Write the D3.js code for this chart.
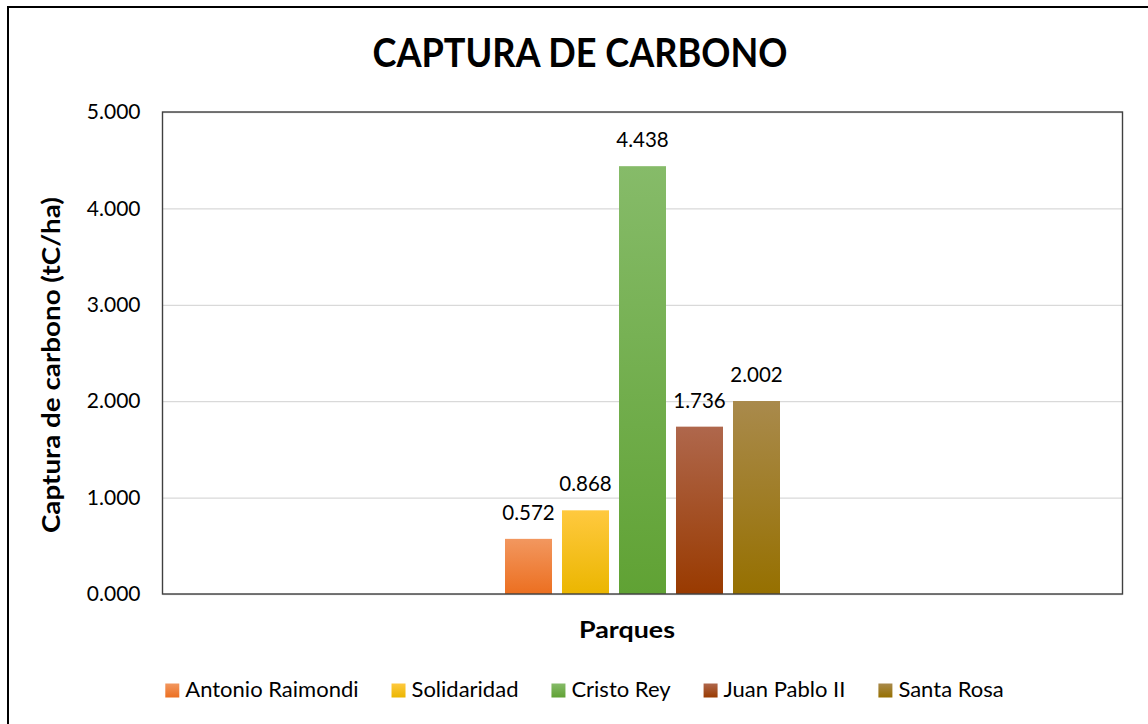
<!DOCTYPE html>
<html><head><meta charset="utf-8">
<script src="https://cdn.jsdelivr.net/npm/d3@7"></script>
<style>body{margin:0;background:#fff;overflow:hidden}</style>
</head><body><svg id="c" width="1148" height="724"></svg>
<script>
// ---- data ----
const categories = ["Parques"];
const series = ["Antonio Raimondi", "Solidaridad", "Cristo Rey", "Juan Pablo II", "Santa Rosa"];
const values = [0.572, 0.868, 4.438, 1.736, 2.002];
const yTicks = [0, 1, 2, 3, 4, 5];
const colorsTop = ["#F2975F", "#FFC93F", "#86BB69", "#AF674C", "#A98A4C"];
const colorsBottom = ["#EC6F20", "#EBB600", "#60A234", "#993A00", "#967000"];
const titleText = "CAPTURA DE CARBONO";
const yTitle = "Captura de carbono (tC/ha)";
const xTitle = "Parques";

// ---- layout ----
const W = 1148, H = 724;
const plot = {left: 162.5, right: 1122.5, top: 112, bottom: 594};
const svg = d3.select("#c");
const FONT = "Lato, 'Open Sans', sans-serif";

const defs = svg.append("defs");
series.forEach((s, i) => {
  const g = defs.append("linearGradient").attr("id", "g" + i)
    .attr("x1", 0).attr("y1", 0).attr("x2", 0).attr("y2", 1);
  g.append("stop").attr("offset", "0%").attr("stop-color", colorsTop[i]);
  g.append("stop").attr("offset", "100%").attr("stop-color", colorsBottom[i]);
});

// outer frame
svg.append("rect").attr("x", 8).attr("y", 7).attr("width", W + 20).attr("height", H + 20)
  .attr("fill", "#fff").attr("stroke", "#000").attr("stroke-width", 2);

const y = d3.scaleLinear().domain([0, 5]).range([plot.bottom, plot.top]);
const x0 = d3.scaleBand().domain(categories).range([plot.left, plot.right])
  .paddingInner(0).paddingOuter(1.2455);
const x1 = d3.scaleBand().domain(series).range([0, x0.bandwidth()])
  .paddingInner(0.1754).paddingOuter(0);

// gridlines
const grid = svg.append("g").attr("transform", `translate(${plot.left},0)`)
  .call(d3.axisLeft(y).tickValues(yTicks).tickSize(-(plot.right - plot.left)).tickFormat(""));
grid.select(".domain").remove();
grid.selectAll("line").attr("stroke", "#D9D9D9").attr("stroke-width", 1.3);

// y axis labels
const yAxis = svg.append("g").attr("transform", `translate(${plot.left},0)`)
  .call(d3.axisLeft(y).tickValues(yTicks).tickSize(0).tickPadding(22)
    .tickFormat(d => d3.format(".3f")(d)));
yAxis.select(".domain").remove();
yAxis.selectAll("text").attr("font-family", FONT).attr("font-size", 21).attr("fill", "#000");

// bars
const grp = svg.append("g").attr("transform", `translate(${x0(categories[0])},0)`);
grp.selectAll("rect").data(values).join("rect")
  .attr("x", (d, i) => x1(series[i]))
  .attr("y", d => y(d))
  .attr("width", x1.bandwidth())
  .attr("height", d => y(0) - y(d))
  .attr("fill", (d, i) => `url(#g${i})`);
grp.selectAll("text").data(values).join("text")
  .attr("x", (d, i) => x1(series[i]) + x1.bandwidth() / 2)
  .attr("y", d => y(d) - 19)
  .attr("text-anchor", "middle")
  .attr("font-family", FONT).attr("font-size", 20.5).attr("fill", "#000")
  .text(d => d3.format(".3f")(d));

// plot border
svg.append("rect").attr("x", plot.left).attr("y", plot.top)
  .attr("width", plot.right - plot.left).attr("height", plot.bottom - plot.top)
  .attr("fill", "none").attr("stroke", "#404040").attr("stroke-width", 1.4);

// title
svg.append("text").attr("x", 580).attr("y", 67).attr("text-anchor", "middle")
  .attr("font-family", FONT).attr("font-weight", "bold").attr("font-size", 40)
  .attr("textLength", 415).attr("lengthAdjust", "spacingAndGlyphs")
  .text(titleText);

// axis titles
svg.append("text").attr("transform", "translate(60,365) rotate(-90)").attr("text-anchor", "middle")
  .attr("font-family", FONT).attr("font-weight", "bold").attr("font-size", 25)
  .attr("textLength", 336).attr("lengthAdjust", "spacingAndGlyphs")
  .text(yTitle);
svg.append("text").attr("x", 627).attr("y", 638).attr("text-anchor", "middle")
  .attr("font-family", FONT).attr("font-weight", "bold").attr("font-size", 23)
  .attr("textLength", 96).attr("lengthAdjust", "spacingAndGlyphs")
  .text(xTitle);

// legend
const legend = svg.append("g");
const items = legend.selectAll("g").data(series).join("g");
items.append("rect").attr("width", 14).attr("height", 14).attr("y", -13.5)
  .attr("fill", (d, i) => `url(#g${i})`);
items.append("text").attr("x", 20).attr("y", 0)
  .attr("font-family", FONT).attr("font-size", 22).attr("fill", "#000").text(d => d);
let cx = 0;
const gapItem = 33;
items.each(function() {
  const t = d3.select(this).select("text").node().getComputedTextLength();
  d3.select(this).attr("transform", `translate(${cx},697)`);
  cx += 20 + t + gapItem;
});
const totalW = cx - gapItem;
legend.attr("transform", `translate(${584.5 - totalW / 2},0)`);
</script></body></html>
